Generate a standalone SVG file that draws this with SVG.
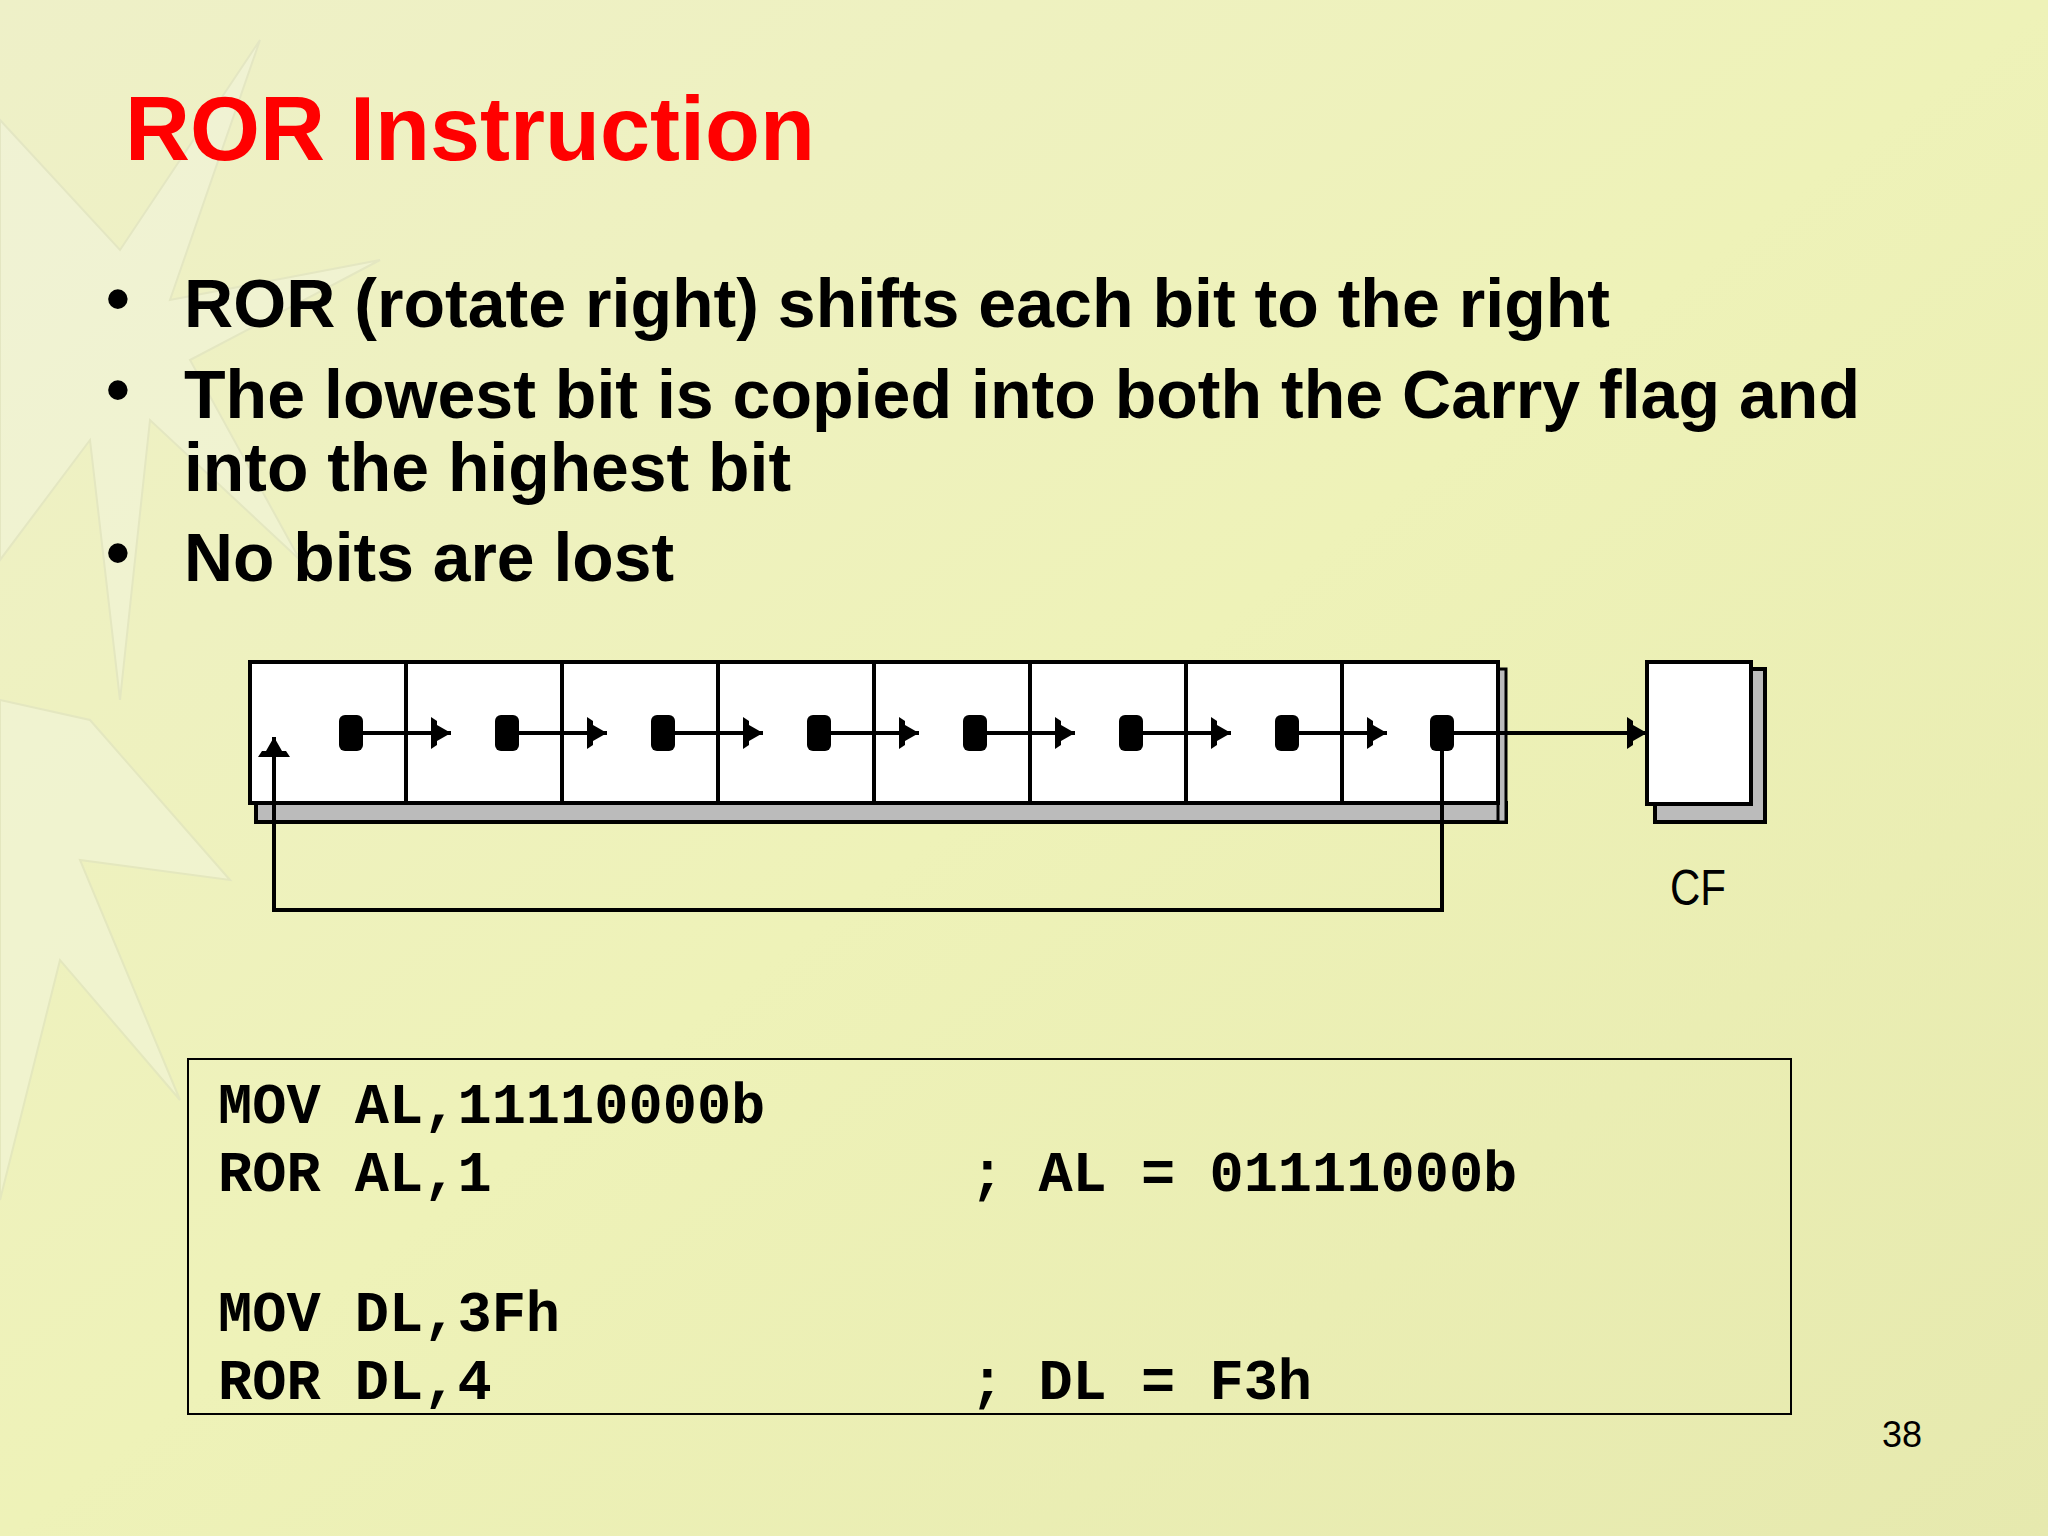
<svg xmlns="http://www.w3.org/2000/svg" width="2048" height="1536" viewBox="0 0 2048 1536">
<defs>
<linearGradient id="bg" x1="0" y1="0" x2="1" y2="1">
<stop offset="0" stop-color="#eef0c8"/><stop offset="0.5" stop-color="#eef2b8"/><stop offset="1" stop-color="#e6e9ae"/>
</linearGradient>
<marker id="ah" markerWidth="24" markerHeight="32" refX="20" refY="16" orient="auto" markerUnits="userSpaceOnUse"><path d="M0,0 L6,4 L6,8 L20,16 L6,24 L6,28 L0,32 Z" fill="#000"/></marker>
</defs>
<style>
.bul{font-family:"Liberation Sans",Arial,sans-serif;font-weight:bold;font-size:68px;fill:#000}
.code{font-family:"Liberation Mono","Courier New",monospace;font-weight:bold;font-size:57px;fill:#000}
.cell{fill:#fff;stroke:#000;stroke-width:4}
.ln{stroke:#000;stroke-width:4;fill:none}
</style>
<rect width="2048" height="1536" fill="url(#bg)"/>
<g opacity="0.45" fill="#f4f6e4" stroke="#d8dcc0" stroke-width="2">
<polygon points="0,120 120,250 260,40 170,300 380,260 190,360 300,560 150,420 120,700 90,440 0,560"/>
<polygon points="0,700 90,720 230,880 80,860 180,1100 60,960 0,1200"/>
</g>
<text x="125" y="160" font-family="Liberation Sans,Arial,sans-serif" font-weight="bold" font-size="90" fill="#ff0000">ROR Instruction</text>
<g id="bullets">
<text x="106" y="322" class="bul">•</text><text x="184" y="327" class="bul" textLength="1426" lengthAdjust="spacingAndGlyphs">ROR (rotate right) shifts each bit to the right</text>
<text x="106" y="413" class="bul">•</text><text x="184" y="418" class="bul" textLength="1676" lengthAdjust="spacingAndGlyphs">The lowest bit is copied into both the Carry flag and</text>
<text x="184" y="491" class="bul" textLength="607" lengthAdjust="spacingAndGlyphs">into the highest bit</text>
<text x="106" y="576" class="bul">•</text><text x="184" y="581" class="bul" textLength="490" lengthAdjust="spacingAndGlyphs">No bits are lost</text>
</g>
<g id="register">
<rect x="256" y="803" width="1250" height="19" fill="#bbb" stroke="#000" stroke-width="4"/>
<rect x="1498" y="669" width="8" height="153" fill="#bbb" stroke="#000" stroke-width="3"/>
<rect x="250" y="662" width="156" height="141" class="cell"/>
<rect x="406" y="662" width="156" height="141" class="cell"/>
<rect x="562" y="662" width="156" height="141" class="cell"/>
<rect x="718" y="662" width="156" height="141" class="cell"/>
<rect x="874" y="662" width="156" height="141" class="cell"/>
<rect x="1030" y="662" width="156" height="141" class="cell"/>
<rect x="1186" y="662" width="156" height="141" class="cell"/>
<rect x="1342" y="662" width="156" height="141" class="cell"/>
</g>
<g id="cf">
<rect x="1655" y="669" width="110" height="153" fill="#bbb" stroke="#000" stroke-width="4"/>
<rect x="1647" y="662" width="104" height="142" class="cell"/>
<text x="1670" y="905" font-family="Liberation Sans,Arial,sans-serif" font-size="50" fill="#000" textLength="56" lengthAdjust="spacingAndGlyphs">CF</text>
</g>
<g id="connectors">
<g fill="#000">
<rect x="339" y="715" width="24" height="36" rx="6"/><rect x="495" y="715" width="24" height="36" rx="6"/><rect x="651" y="715" width="24" height="36" rx="6"/><rect x="807" y="715" width="24" height="36" rx="6"/><rect x="963" y="715" width="24" height="36" rx="6"/><rect x="1119" y="715" width="24" height="36" rx="6"/><rect x="1275" y="715" width="24" height="36" rx="6"/><rect x="1430" y="715" width="24" height="36" rx="6"/>
</g>
<path class="ln" d="M351,733 H451" marker-end="url(#ah)"/>
<path class="ln" d="M507,733 H607" marker-end="url(#ah)"/>
<path class="ln" d="M663,733 H763" marker-end="url(#ah)"/>
<path class="ln" d="M819,733 H919" marker-end="url(#ah)"/>
<path class="ln" d="M975,733 H1075" marker-end="url(#ah)"/>
<path class="ln" d="M1131,733 H1231" marker-end="url(#ah)"/>
<path class="ln" d="M1287,733 H1387" marker-end="url(#ah)"/>
<path class="ln" d="M1442,733 H1647" marker-end="url(#ah)"/>
<path class="ln" d="M1442,733 V910 H274 V737" marker-end="url(#ah)"/>
</g>
<g id="code">
<rect x="188" y="1059" width="1603" height="355" fill="none" stroke="#000" stroke-width="2"/>
<text x="218" y="1123" class="code">MOV AL,11110000b</text>
<text x="218" y="1191" class="code">ROR AL,1</text><text x="970" y="1191" class="code">; AL = 01111000b</text>
<text x="218" y="1331" class="code">MOV DL,3Fh</text>
<text x="218" y="1399" class="code">ROR DL,4</text><text x="970" y="1399" class="code">; DL = F3h</text>
</g>
<text x="1882" y="1447" font-family="Liberation Sans,Arial,sans-serif" font-size="36" fill="#000">38</text>
</svg>
